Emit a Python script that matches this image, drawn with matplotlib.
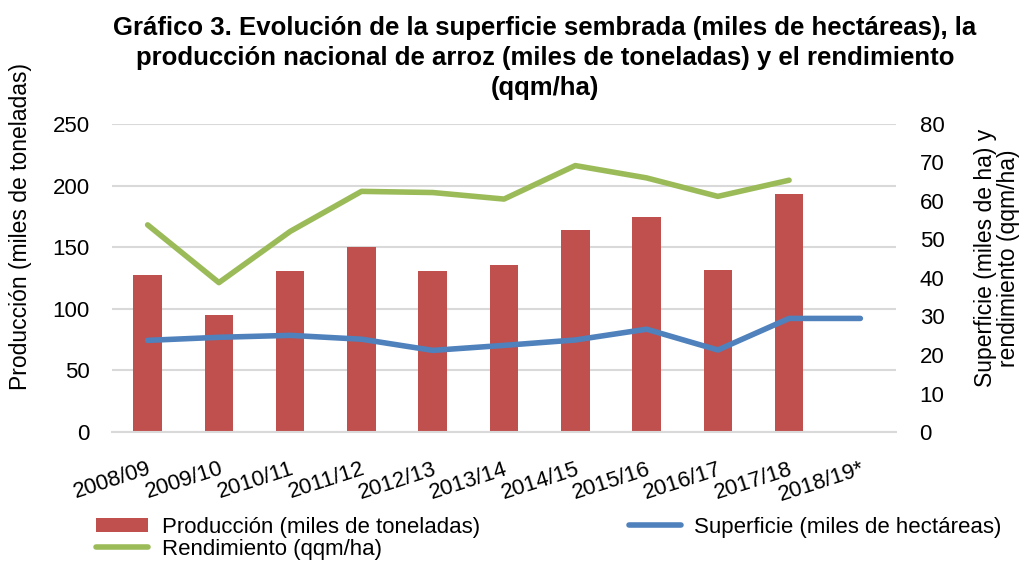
import matplotlib
matplotlib.use("Agg")
import matplotlib.pyplot as plt
import numpy as np

campanas = ["2008/09", "2009/10", "2010/11", "2011/12", "2012/13", "2013/14",
            "2014/15", "2015/16", "2016/17", "2017/18", "2018/19*"]
produccion = [127.7, 94.9, 131.0, 150.5, 130.7, 135.6, 164.2, 174.8, 131.8, 193.2, np.nan]
superficie = [23.8, 24.6, 25.1, 24.1, 21.2, 22.5, 23.9, 26.7, 21.3, 29.5, 29.5]
rendimiento = [53.8, 38.8, 52.1, 62.5, 62.2, 60.5, 69.2, 66.0, 61.2, 65.4, np.nan]

plt.rcParams['font.family'] = ['Liberation Sans', 'DejaVu Sans']

fig = plt.figure(figsize=(10.26, 5.63), dpi=100)
ax = fig.add_axes([112 / 1026, 1 - 432 / 563, 784 / 1026, 308 / 563])
ax2 = ax.twinx()

x = np.arange(len(campanas))
bars = ax.bar(x, produccion, width=0.4, color='#c0504d', zorder=2,
              label='Producción (miles de toneladas)')
l_sup, = ax2.plot(x, superficie, color='#4f81bd', lw=4, solid_capstyle='round',
                  label='Superficie (miles de hectáreas)')
l_ren, = ax2.plot(x, rendimiento, color='#9bbb59', lw=4, solid_capstyle='round',
                  label='Rendimiento (qqm/ha)')

ax.set_xlim(-0.5, len(campanas) - 0.5)
ax.set_ylim(0, 250)
ax.set_yticks(range(0, 251, 50))
ax2.set_ylim(0, 80)
ax2.set_yticks(range(0, 81, 10))
ax.yaxis.grid(True, color='#d9d9d9', lw=1.5, zorder=0)
ax.set_axisbelow(True)

for a in (ax, ax2):
    for s in a.spines.values():
        s.set_visible(False)
    a.tick_params(length=0, labelsize=16)
ax.spines['bottom'].set_visible(True)
ax.spines['bottom'].set_color('#d9d9d9')
ax.spines['bottom'].set_linewidth(1.5)
ax.tick_params(axis='y', pad=16)
ax2.tick_params(axis='y', pad=17)

# rotated season labels, right end sitting under each tick
ax.set_xticks(x)
ax.set_xticklabels(campanas, rotation=18, ha='right', va='top',
                   rotation_mode='anchor', fontsize=16)
ax.tick_params(axis='x', pad=19)

fig.text(21 / 1026, 1 - 227 / 563, 'Producción (miles de toneladas)', rotation=90,
         ha='center', va='center', fontsize=16.5)
fig.text(997 / 1026, 1 - 258 / 563, 'Superficie (miles de ha) y\nrendimiento (qqm/ha)',
         rotation=90, ha='center', va='center', fontsize=16.5, linespacing=1.05)

fig.text(545 / 1026, 1 - 58 / 563,
         'Gráfico 3. Evolución de la superficie sembrada (miles de hectáreas), la\n'
         'producción nacional de arroz (miles de toneladas) y el rendimiento\n(qqm/ha)',
         ha='center', va='center', fontsize=18.5, fontweight='bold', linespacing=1.32)

leg = fig.legend(handles=[bars, l_ren, l_sup], ncol=2, loc='lower left',
                 bbox_to_anchor=(76 / 1026, -0.03), frameon=False,
                 prop={'size': 16}, columnspacing=6.7,
                 handlelength=2.35, handleheight=0.6, handletextpad=0.6,
                 labelspacing=0.05)

fig.savefig('out.png', dpi=100)
